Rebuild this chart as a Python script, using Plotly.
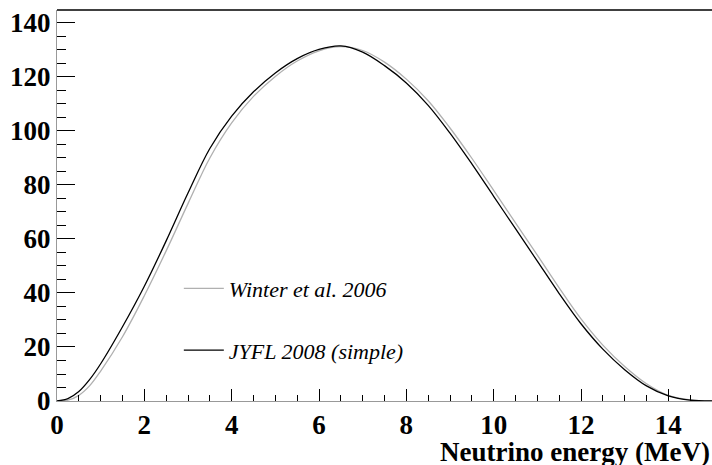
import plotly.graph_objects as go

energy = [0, 0.25, 0.5, 0.75, 1, 1.5, 2, 2.5, 3, 3.5, 4, 4.5, 5, 5.5, 6, 6.5, 7, 7.5, 8, 8.5, 9, 9.5,
          10, 10.5, 11, 11.5, 12, 12.5, 13, 13.5, 14, 14.5, 15]
jyfl_2008 = [0, 0.9, 3.5, 8.0, 13.8, 27.5, 42.5, 59.3, 77.0, 93.5, 105.5, 114.5, 121.5, 126.8, 130.2, 131.5,
             129.2, 124.2, 117.8, 109.5, 99.2, 87.8, 75.8, 63.8, 51.8, 39.8, 28.6, 19.2, 11.6, 5.6, 1.9, 0.3, 0]
winter_2006 = [0, 0.3, 2.1, 5.7, 11.1, 23.8, 39.0, 55.6, 73.1, 90.0, 103.0, 112.8, 120.2, 125.9, 129.7, 131.2,
               129.8, 125.5, 119.2, 111.2, 101.1, 89.9, 78.0, 66.0, 54.0, 41.9, 30.4, 20.7, 12.8, 6.4, 2.1, 0.4, 0]

SERIF = "Times New Roman, Times, serif"

fig = go.Figure()
fig.add_trace(go.Scatter(x=energy, y=winter_2006, mode="lines", name="Winter et al. 2006",
                         line=dict(color="#b0b0b0", width=1.3, shape="spline", smoothing=1.0),
                         legendgroup="a"))
fig.add_trace(go.Scatter(x=energy, y=jyfl_2008, mode="lines", name="JYFL 2008 (simple)",
                         line=dict(color="black", width=1.3, shape="spline", smoothing=1.0),
                         legendgroup="b"))

fig.update_layout(
    width=712, height=465,
    margin=dict(l=57, r=0, t=10, b=64),
    paper_bgcolor="white", plot_bgcolor="white",
    font=dict(family=SERIF, color="black"),
    showlegend=True,
    legend=dict(x=0.186, y=0.341, xanchor="left", yanchor="top",
                bgcolor="rgba(0,0,0,0)", borderwidth=0, itemwidth=40,
                font=dict(family=SERIF, size=22, color="black", style="italic"),
                tracegroupgap=30, traceorder="grouped"),
    xaxis=dict(range=[0, 15], showgrid=False, zeroline=False,
               showline=True, linecolor="#999999", linewidth=1,
               ticks="inside", ticklen=12, tickwidth=1, tickcolor="black",
               dtick=2, tick0=0,
               minor=dict(ticks="inside", ticklen=6, dtick=0.5, tickcolor="black", showgrid=False),
               tickfont=dict(family=SERIF, size=27, color="black", weight="bold")),
    yaxis=dict(range=[0, 144.8], showgrid=False, zeroline=False,
               showline=True, linecolor="#999999", linewidth=1,
               ticks="inside", ticklen=18, tickwidth=1, tickcolor="black",
               dtick=20, tick0=0,
               minor=dict(ticks="inside", ticklen=9, dtick=5, tickcolor="black", showgrid=False),
               tickfont=dict(family=SERIF, size=27, color="black", weight="bold")),
    shapes=[dict(type="line", xref="paper", yref="paper", x0=0, x1=1, y0=1, y1=1,
                 line=dict(color="black", width=1.5))],
    annotations=[dict(text="Neutrino energy (MeV)", xref="paper", yref="paper",
                      x=1, y=0, xanchor="right", yanchor="top", yshift=-34, showarrow=False,
                      font=dict(family=SERIF, size=27, color="black", weight="bold"))],
)

fig.write_html("out.html")
